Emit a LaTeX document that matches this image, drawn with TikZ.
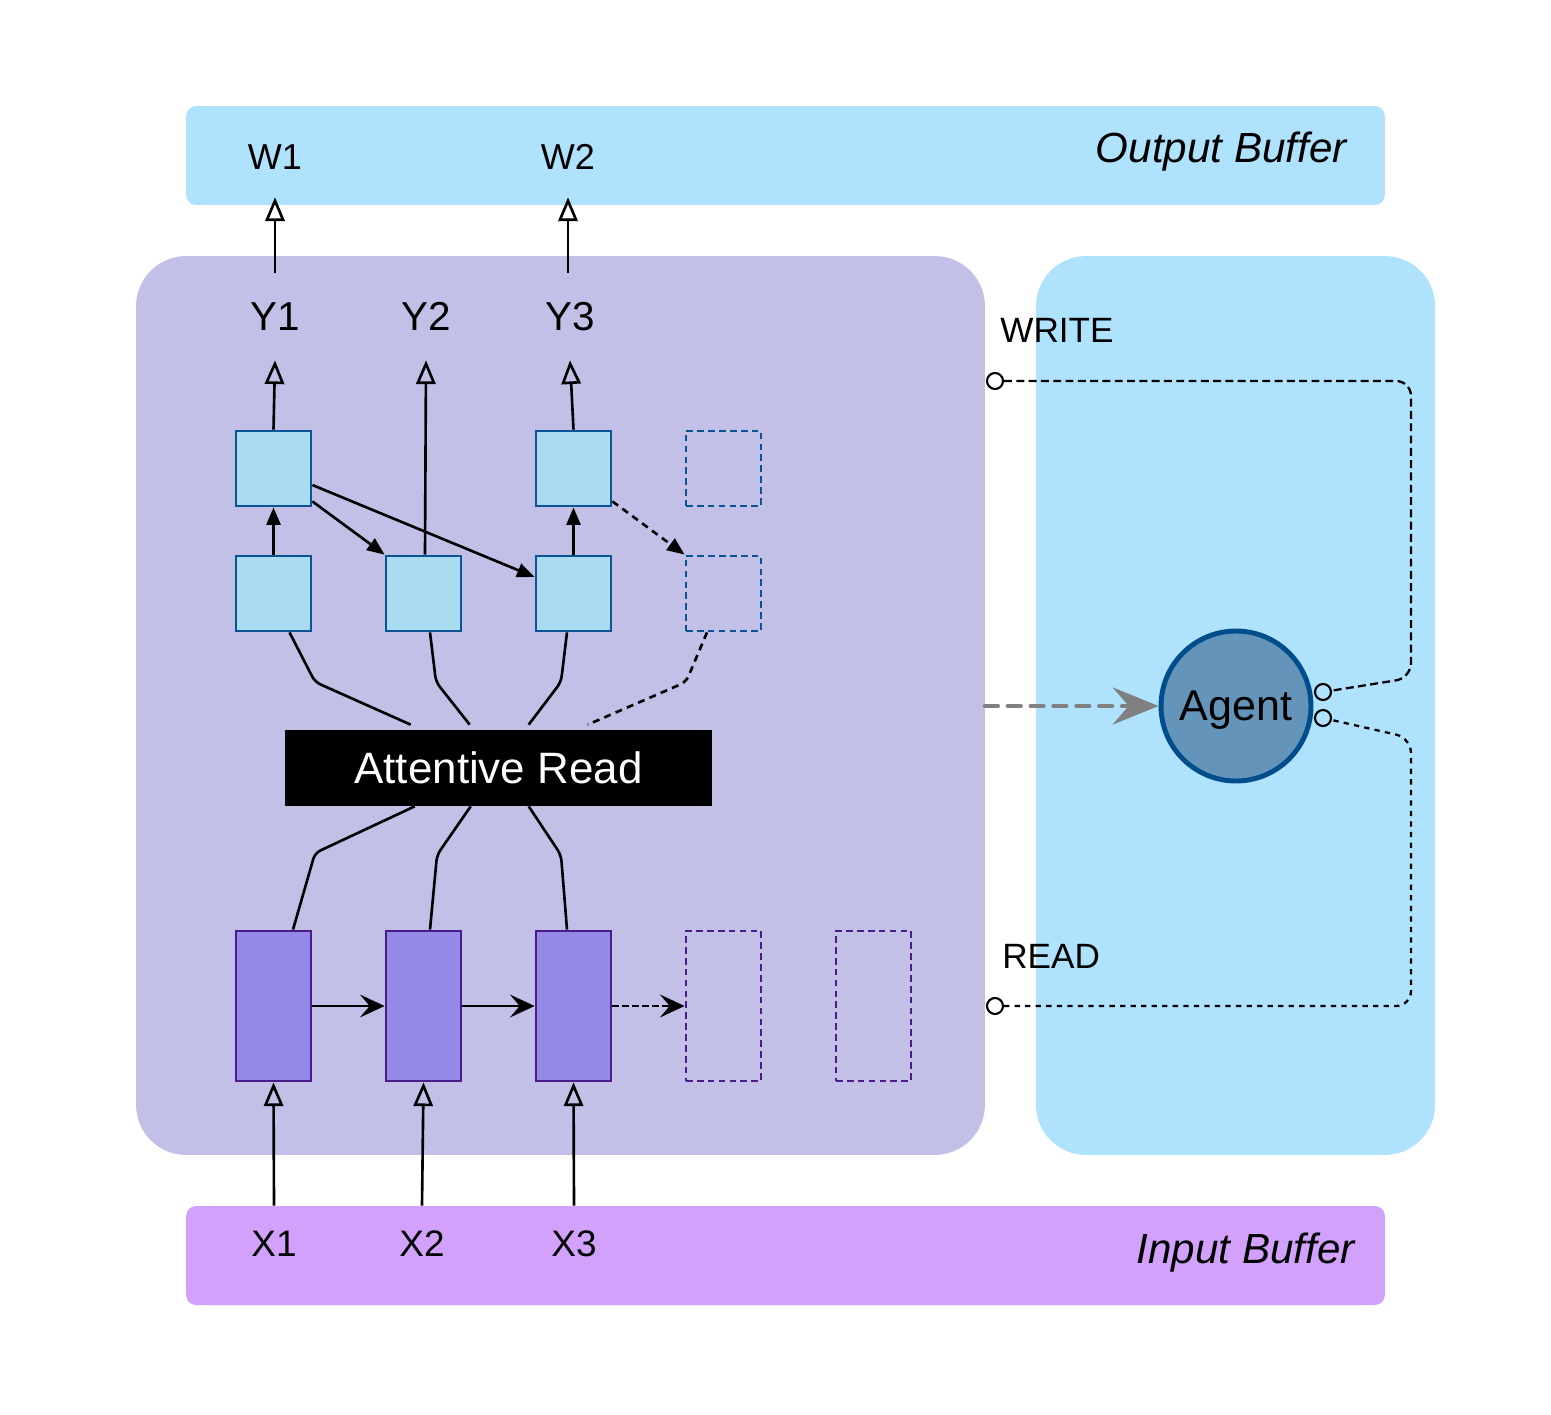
\documentclass[tikz,border=0pt]{standalone}
\usepackage{fontspec}
\setmainfont{Liberation Sans}
\usetikzlibrary{arrows.meta,calc}
\definecolor{outbufc}{HTML}{AEE2FD}
\definecolor{inbufc}{HTML}{D2A1FC}
\definecolor{lpanelc}{HTML}{C3C0E8}
\definecolor{rpanelc}{HTML}{AEE2FD}
\definecolor{decfill}{HTML}{A9DBF1}
\definecolor{decstroke}{HTML}{0B5394}
\definecolor{encfill}{HTML}{9589E8}
\definecolor{encstroke}{HTML}{4B1A8B}
\definecolor{agentfill}{HTML}{6494BA}
\definecolor{agentstroke}{HTML}{004D8C}
\begin{document}
\begin{tikzpicture}[x=0.02cm,y=-0.02cm,
  panel/.style={rectangle, inner sep=0pt, draw=none},
  dbox/.style={rectangle, draw=decstroke, fill=decfill, line width=1.6pt, minimum size=1.5cm, inner sep=0pt},
  dboxd/.style={rectangle, draw=decstroke, line width=1.6pt, dash pattern=on 3.8pt off 2.4pt, minimum size=1.5cm, inner sep=0pt},
  ebox/.style={rectangle, draw=encstroke, fill=encfill, line width=1.6pt, minimum width=1.5cm, minimum height=3cm, inner sep=0pt},
  eboxd/.style={rectangle, draw=encstroke, line width=1.6pt, dash pattern=on 3.8pt off 2.4pt, minimum width=1.5cm, minimum height=3cm, inner sep=0pt},
  ylab/.style={inner sep=0pt, minimum height=1.74cm, font=\fontsize{23}{27}\selectfont},
  wlab/.style={inner sep=0pt, minimum height=1.6cm, font=\fontsize{20.5}{24}\selectfont},
  xlab/.style={inner sep=0pt, minimum height=1.52cm, font=\fontsize{21}{25}\selectfont},
  conn/.style={line width=1.5pt, black},
  oarrow/.style={conn, -{Triangle[open, length=13.5pt, width=11pt]}},
  farrow/.style={conn, -{Triangle[length=10pt, width=8pt]}},
  sarrow/.style={conn, -{Stealth[length=14pt, width=13pt, inset=5.5pt]}},
  attline/.style={conn, rounded corners=0.12cm},
  smallc/.style={circle, draw=black, line width=1.2pt, minimum size=0.32cm, inner sep=0pt},
  lnkw/.style={line width=1.3pt, dash pattern=on 4.5pt off 2.5pt, rounded corners=0.3cm},
  lnkr/.style={line width=1.3pt, dash pattern=on 3pt off 3pt, rounded corners=0.3cm}
]
\useasboundingbox[fill=white] (0,0) rectangle (1551,1415);

% panels
\node[panel, fill=outbufc, rounded corners=0.2cm, minimum width=23.98cm, minimum height=1.98cm] (outbuf) at (785.5,155.5) {};
\node[panel, fill=inbufc, rounded corners=0.2cm, minimum width=23.98cm, minimum height=1.98cm] (inbuf) at (785.5,1255.5) {};
\node[panel, fill=lpanelc, rounded corners=1cm, minimum width=16.98cm, minimum height=17.98cm] (lpanel) at (560.5,705.5) {};
\node[panel, fill=rpanelc, rounded corners=1cm, minimum width=7.98cm, minimum height=17.98cm] (rpanel) at (1235.5,705.5) {};

\node[anchor=base east, inner sep=0pt, font=\fontsize{24}{28}\selectfont\itshape] (outlab) at (1347,163) {Output Buffer};
\node[anchor=base east, inner sep=0pt, font=\fontsize{24}{28}\selectfont\itshape] (inlab) at (1355,1263) {Input Buffer};

% labels
\node[wlab] (W1) at (275,157) {W1};
\node[wlab] (W2) at (568,157) {W2};
\node[ylab] (Y1) at (275,316.5) {Y1};
\node[ylab] (Y2) at (426,316.5) {Y2};
\node[ylab] (Y3) at (570,316.5) {Y3};
\node[xlab] (X1) at (274,1244) {X1};
\node[xlab] (X2) at (422,1244) {X2};
\node[xlab] (X3) at (574,1244) {X3};

% decoder boxes
\node[dbox] (u1) at (273.5,468.5) {};
\node[dbox] (u3) at (573.5,468.5) {};
\node[dboxd] (u4) at (723.5,468.5) {};
\node[dbox] (l1) at (273.5,593.5) {};
\node[dbox] (l2) at (423.5,593.5) {};
\node[dbox] (l3) at (573.5,593.5) {};
\node[dboxd] (l4) at (723.5,593.5) {};

% encoder boxes
\node[ebox] (e1) at (273.5,1006) {};
\node[ebox] (e2) at (423.5,1006) {};
\node[ebox] (e3) at (573.5,1006) {};
\node[eboxd] (e4) at (723.5,1006) {};
\node[eboxd] (e5) at (873.5,1006) {};

% attentive read
\node[fill=black, minimum width=8.54cm, minimum height=1.52cm, inner sep=0pt, text=white, font=\fontsize{25}{30}\selectfont] (attn) at (498.5,768) {Attentive Read};

% agent
\node[circle, draw=agentstroke, fill=agentfill, line width=2.8pt, minimum size=3cm, inner sep=0pt, text depth=0pt, font=\fontsize{24.5}{29}\selectfont] (agent) at (1236,706) {Agent};

% output arrows
\draw[oarrow] (Y1.north) -- (W1.south);
\draw[oarrow] (Y3.north -| W2) -- (W2.south);
\draw[oarrow] (u1.north) -- (Y1.south);
\draw[oarrow] ($(l2.north)+(1.5,0)$) -- (Y2.south);
\draw[oarrow] (u3.north) -- (Y3.south);

% decoder internal
\draw[farrow] (l1) -- (u1);
\draw[farrow] (l3) -- (u3);
\draw[farrow] ($(u1.south east)+(0,-6)$) -- (l2.north west);
\draw[farrow] ($(u1.east)+(0,16.5)$) -- ($(l3.west)+(0,-16.5)$);
\draw[farrow, dash pattern=on 4pt off 3pt] ($(u3.south east)+(0,-6)$) -- (l4.north west);

% attention lines
\draw[attline] ($(l1.south)+(16,0)$) -- (315,682) -- ($(attn.north west)+(126,-5)$);
\draw[attline] ($(l2.south)+(6.5,0)$) -- (436,682) -- ($(attn.north west)+(185,-5)$);
\draw[attline] ($(l3.south)+(-6.5,0)$) -- (561,682) -- ($(attn.north west)+(244,-5)$);
\draw[attline, dash pattern=on 4pt off 3pt] ($(l4.south)+(-16.5,0)$) -- (686,682) -- ($(attn.north west)+(303,-5)$);
\draw[attline] ($(attn.south west)+(130,0)$) -- (315,853) -- ($(e1.north)+(19.5,0)$);
\draw[attline] ($(attn.south west)+(186,0)$) -- (437,855) -- ($(e2.north)+(6.5,0)$);
\draw[attline] ($(attn.south west)+(244,0)$) -- (561,855) -- ($(e3.north)+(-6.5,0)$);

% encoder arrows
\draw[sarrow] (e1) -- (e2);
\draw[sarrow] (e2) -- (e3);
\draw[sarrow, dash pattern=on 3.5pt off 2.2pt] (e3) -- (e4);

% input arrows
\draw[oarrow] (X1.north) -- (e1.south);
\draw[oarrow] (X2.north) -- (e2.south);
\draw[oarrow] (X3.north) -- (e3.south);

% gray arrow
\draw[line width=2.8pt, color=gray, line cap=round, dash pattern=on 7pt off 6pt,
      -{Stealth[length=26pt, width=21pt, inset=9pt]}] (agent.west -| lpanel.east) -- (agent);

% write / read
\node[anchor=base west, inner sep=0pt, font=\fontsize{20}{24}\selectfont] (wtxt) at (1000,343) {WRITE};
\node[anchor=base west, inner sep=0pt, font=\fontsize{20}{24}\selectfont] (rtxt) at (1002,968) {READ};
\node[smallc] (wc1) at (995,381) {};
\node[smallc] (wc2) at (1323,692) {};
\node[smallc] (rc1) at (995,1006) {};
\node[smallc] (rc2) at (1323,718) {};
\draw[lnkw] (wc1) -- (1411,381) -- (1411,678) -- (wc2);
\draw[lnkr] (rc1) -- (1411,1006) -- (1411,738) -- (rc2);
\end{tikzpicture}
\end{document}
